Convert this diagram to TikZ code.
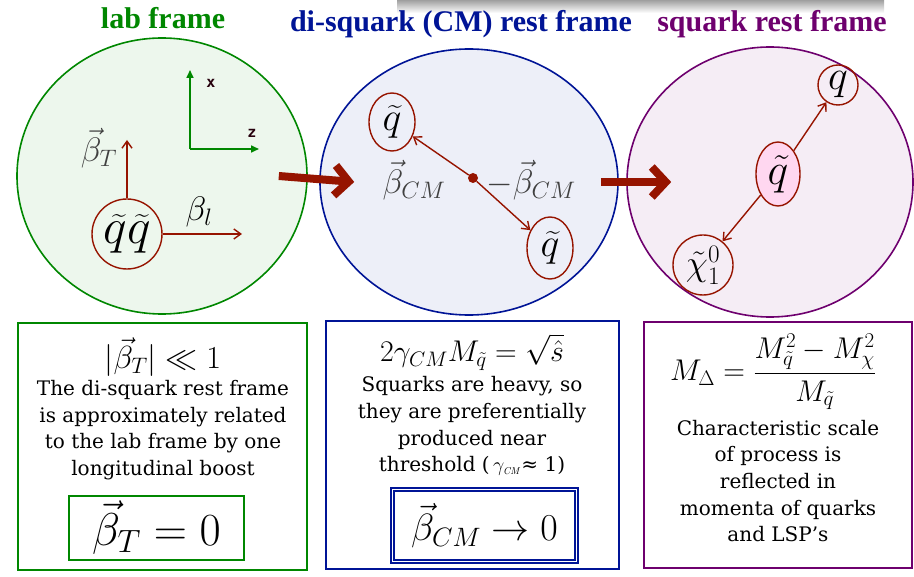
\RequirePackage{fix-cm}
\documentclass[tikz,border=0pt]{standalone}
\usepackage[no-math]{fontspec}
\setmainfont{DejaVu Serif}
\newfontfamily\titlefont{Liberation Serif}
\newfontfamily\axisfont{DejaVu Sans Mono}
\usepackage{amsmath}
\definecolor{labgreen}{RGB}{0,135,0}
\definecolor{cmblue}{RGB}{0,20,150}
\definecolor{sqpurple}{RGB}{110,0,110}
\definecolor{partred}{RGB}{150,20,0}
\definecolor{sqpink}{RGB}{255,215,240}
\usetikzlibrary{arrows.meta, positioning, shapes.geometric}

\begin{document}
\begin{tikzpicture}[x=1pt, y=-1pt,
  every node/.style={inner sep=0pt},
  ttl/.style={font=\titlefont\bfseries\fontsize{30}{30}\selectfont, text=#1},
  frm/.style={ellipse, draw=#1, fill=#1!7, line width=1.6pt},
  infobox/.style={rectangle, draw=#1, line width=1.6pt},
  part/.style={ellipse, draw=partred, line width=1.4pt, font=\fontsize{40}{40}\selectfont},
  lbl/.style={font=\fontsize{34}{34}\selectfont, text=black!75},
  body/.style={align=center, font=\fontsize{20}{26.7}\selectfont},
  formula/.style={font=\fontsize{#1}{#1}\selectfont},
  parr/.style={-{Straight Barb[length=7pt, width=10pt]}, line width=1.4pt, partred},
  boost/.style={-{Straight Barb[length=14pt, width=30pt]}, line width=8pt, partred},
  axis/.style={-{Triangle[length=8pt, width=7pt]}, line width=1.6pt, labgreen}
]
  \useasboundingbox (0,0) rectangle (914,577);
  % shadow at the top edge
  \fill[top color=gray!75, bottom color=white] (397,0) rectangle (884,13);

  % titles
  \node[ttl=labgreen] (tlab) at (163,18) {lab frame};
  \node[ttl=cmblue] (tcm) at (461,24) {di-squark (CM) rest frame};
  \node[ttl=sqpurple] (tsq) at (772,24) {squark rest frame};

  % frames
  \node[frm=labgreen, minimum width=290pt, minimum height=276pt] (lab) at (162,176) {};
  \node[frm=cmblue, minimum width=298pt, minimum height=266pt] (cm) at (469,182) {};
  \node[frm=sqpurple, minimum width=286pt, minimum height=270pt] (sq) at (770,182) {};

  \draw[boost] ([xshift=-29pt]lab.east) -- ([xshift=35pt]cm.west);
  \draw[boost] ([xshift=-18pt]cm.east) -- ([xshift=45pt]sq.west);

  % lab frame
  \coordinate (org) at (190,149);
  \coordinate (xtip) at (190,70);
  \coordinate (ztip) at (259,149);
  \draw[axis] (org) -- (xtip);
  \draw[axis] (org) -- (ztip);
  \node[font=\axisfont\bfseries\fontsize{15}{15}\selectfont, text=black!80!purple] (xl) at (211,83) {x};
  \node[font=\axisfont\bfseries\fontsize{15}{15}\selectfont, text=black!80!purple] (zl) at (252,133) {z};
  \node[part, circle, minimum size=70pt, font=\fontsize{50}{50}\selectfont] (qq) at (127,234) {$\widetilde{q}\widetilde{q}$};
  \coordinate (bTtip) at (127,140);
  \coordinate (bltip) at (242,234);
  \draw[parr] (qq.north) -- (bTtip);
  \draw[parr] (qq.east) -- (bltip);
  \node[lbl] (bT) at (99,148) {$\vec\beta_T$};
  \node[lbl, text=black] (bl) at (199,212) {$\beta_l$};

  % CM frame
  \node[part, minimum width=46pt, minimum height=58pt] (q1) at (392,122) {$\widetilde{q}$};
  \node[part, minimum width=46pt, minimum height=62pt] (q2) at (550,248) {$\widetilde{q}$};
  \node[circle, fill=partred, minimum size=10pt] (cmdot) at (473,178) {};
  \draw[parr] (cmdot) -- (q1);
  \draw[parr] (cmdot) -- (q2);
  \node[lbl] (bcm) at (414,180) {$\vec\beta_{CM}$};
  \node[lbl] (mbcm) at (531,180) {$-\vec\beta_{CM}$};

  % squark rest frame
  \node[part, fill=sqpink, minimum width=44pt, minimum height=64pt, font=\fontsize{44}{44}\selectfont] (sqk) at (778,174) {$\tilde{q}$};
  \node[part, circle, minimum size=40pt, font=\fontsize{42}{42}\selectfont] (qk) at (838,85) {$q$};
  \node[part, circle, minimum size=60pt, font=\fontsize{36}{36}\selectfont] (chi) at (703,265) {$\tilde\chi_1^0$};
  \draw[parr] (sqk) -- (qk);
  \draw[parr] (sqk) -- (chi);

  % bottom boxes
  \node[infobox=labgreen, minimum width=289pt, minimum height=247pt] (labbox) at (162.5,446.5) {};
  \node[formula=32] (labf) at (163,357) {$|\vec\beta_T| \ll 1$};
  \node[body] (labtxt) at (163,430) {The di-squark rest frame\\is approximately related\\to the lab frame by one\\longitudinal boost};
  \node[infobox=labgreen, minimum width=175pt, minimum height=64pt, font=\fontsize{46}{46}\selectfont] (labres) at (156.5,528) {$\vec\beta_T = 0$};

  \node[infobox=cmblue, minimum width=293pt, minimum height=248pt] (cmbox) at (472.5,445) {};
  \node[formula=30] (cmf) at (472,352) {$2\gamma_{CM}M_{\tilde q} = \sqrt{\hat s}$};
  \node[body] (cmtxt) at (472,426) {Squarks are heavy, so\\they are preferentially\\produced near\\threshold (\,$\gamma_{\mathit{\scriptscriptstyle CM}}$≈ 1)};
  \node[infobox=cmblue, double, double distance=1.5pt, line width=1.4pt, minimum width=184pt, minimum height=72pt, font=\fontsize{38}{38}\selectfont] (cmres) at (484.5,525.5) {$\vec\beta_{CM} \to 0$};

  \node[infobox=sqpurple, minimum width=268pt, minimum height=246pt] (sqbox) at (778,445) {};
  \node[formula=30] (sqf) at (773,372) {$M_\Delta = \dfrac{M_{\tilde q}^2 - M_\chi^2}{M_{\tilde q}}$};
  \node[body] (sqtxt) at (778,481) {Characteristic scale\\of process is\\reflected in\\momenta of quarks\\and LSP’s};
\end{tikzpicture}
\end{document}
